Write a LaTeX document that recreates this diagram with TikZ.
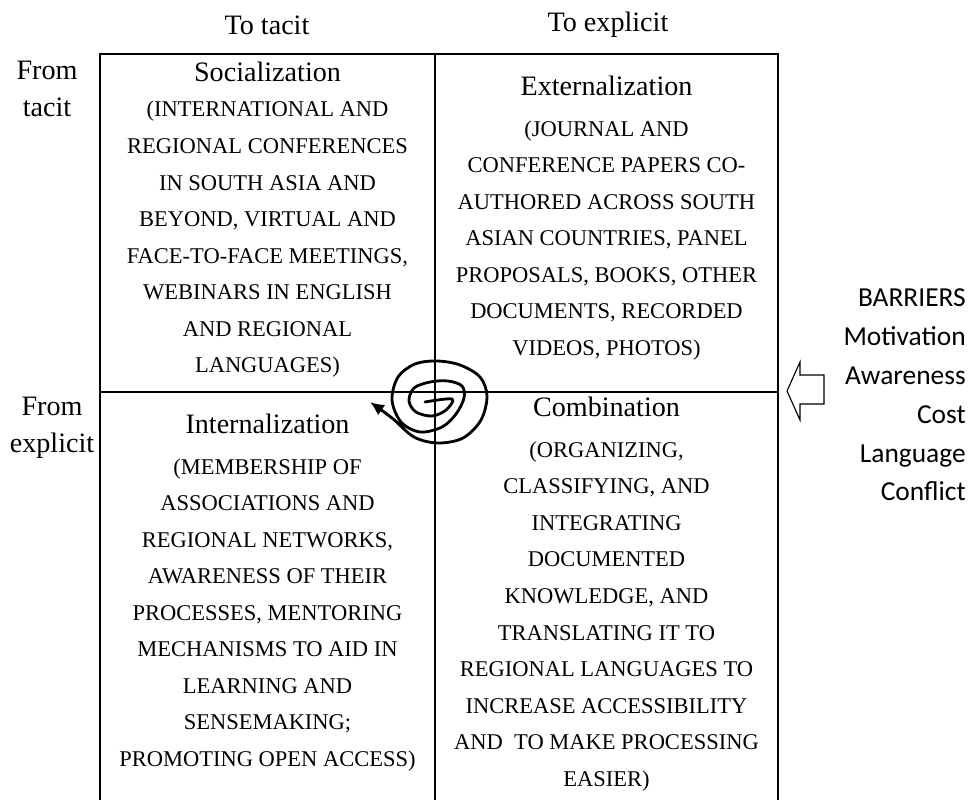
\documentclass[tikz,border=0pt]{standalone}
\usepackage{fontspec}
\setmainfont{Liberation Serif}
\newfontfamily\barfont{Carlito}
\usetikzlibrary{arrows.meta}

\tikzset{
  quadtext/.style={align=center, inner sep=0pt, font=\fontsize{16}{26}\selectfont},
  axislabel/.style={align=center, inner sep=0pt, font=\fontsize{20}{26.5}\selectfont},
  gridline/.style={line width=1.3pt},
  spiralline/.style={line width=2pt, line cap=round, -{Latex[length=10pt,width=9pt]}},
}
\newcommand{\qtitle}[1]{{\fontsize{20}{26}\selectfont #1}}

\begin{document}
\begin{tikzpicture}[x=0.025cm, y=-0.025cm]
    \useasboundingbox (0,0) rectangle (972,800);
    % Grid (open at the bottom)
    \draw[gridline] (100,800) -- (100,54) -- (778,54) -- (778,800);
    \draw[gridline] (435,54) -- (435,800);
    \draw[gridline] (100,392) -- (778,392);

    % Axis labels
    \node[axislabel] (totacit) at (267,25) {To tacit};
    \node[axislabel] (toexplicit) at (608,25) {To explicit};
    \node[axislabel] (fromtacit) at (47,89) {From\\tacit};
    \node[axislabel] (fromexplicit) at (52,428) {From\\explicit};

    % Quadrants
    \node[quadtext] (soc) at (267.5,220) {\qtitle{Socialization}\\[-1pt]
        (INTERNATIONAL AND\\
        REGIONAL CONFERENCES\\
        IN SOUTH ASIA AND\\
        BEYOND, VIRTUAL AND\\
        FACE-TO-FACE MEETINGS,\\
        WEBINARS IN ENGLISH\\
        AND REGIONAL\\
        LANGUAGES)};
    \node[quadtext] (ext) at (606.5,218) {\qtitle{Externalization}\\[3pt]
        (JOURNAL AND\\
        CONFERENCE PAPERS CO-\\
        AUTHORED ACROSS SOUTH\\
        ASIAN COUNTRIES, PANEL\\
        PROPOSALS, BOOKS, OTHER\\
        DOCUMENTS, RECORDED\\
        VIDEOS, PHOTOS)};
    \node[quadtext] (int) at (267.5,592.5) {\qtitle{Internalization}\\[3pt]
        (MEMBERSHIP OF\\
        ASSOCIATIONS AND\\
        REGIONAL NETWORKS,\\
        AWARENESS OF THEIR\\
        PROCESSES, MENTORING\\
        MECHANISMS TO AID IN\\
        LEARNING AND\\
        SENSEMAKING;\\
        PROMOTING OPEN ACCESS)};
    \node[quadtext] (comb) at (606.5,594) {\qtitle{Combination}\\[3pt]
        (ORGANIZING,\\
        CLASSIFYING, AND\\
        INTEGRATING\\
        DOCUMENTED\\
        KNOWLEDGE, AND\\
        TRANSLATING IT TO\\
        REGIONAL LANGUAGES TO\\
        INCREASE ACCESSIBILITY\\
        AND~~TO MAKE PROCESSING\\
        EASIER)};

    % Barriers
    \node[align=right, anchor=east, inner sep=0pt, font=\barfont\fontsize{19.5}{27.6}\selectfont]
        (barriers) at (966,395) {BARRIERS\\Motivation\\Awareness\\Cost\\Language\\Conflict};
    \draw[line width=0.8pt] (787,391) -- (800,362) -- (800,375) -- (824,375)
        -- (824,404) -- (800,404) -- (800,420) -- cycle;

    % Knowledge spiral
    \draw[spiralline] plot[smooth, tension=0.55] coordinates {
        (425,402) (452,399) (446,410) (432,416) (416,412) (409,401) (414,388)
        (430,382) (448,381) (462,386) (464,398) (456,414) (442,427) (420,432)
        (401,422) (392,400) (398,377) (415,364) (437,361) (460,365) (480,377)
        (487,396) (481,420) (463,438) (438,443) (414,437) (392,418) (370,402)};
\end{tikzpicture}
\end{document}
